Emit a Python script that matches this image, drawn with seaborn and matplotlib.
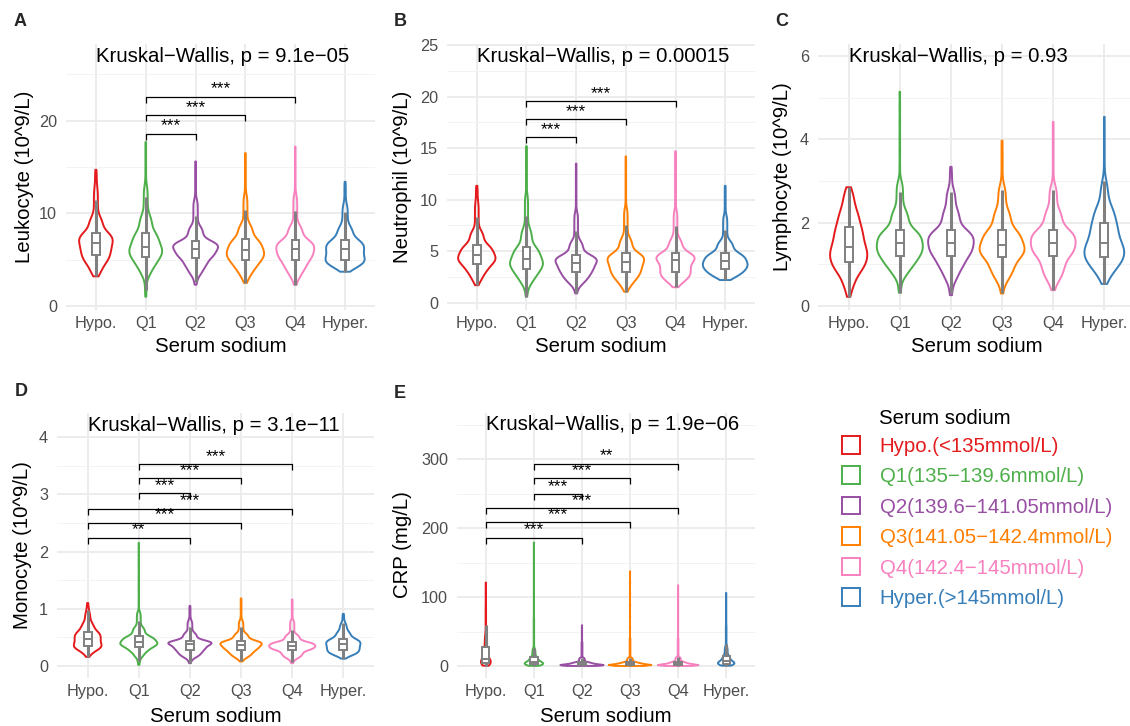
import numpy as np
import pandas as pd
import matplotlib
matplotlib.use("Agg")
import matplotlib.pyplot as plt
import seaborn as sns
from matplotlib.ticker import MultipleLocator
from matplotlib.patches import Patch

# ---------------- data ----------------
groups = ["Hypo.", "Q1", "Q2", "Q3", "Q4", "Hyper."]
legend_labels = ["Hypo.(<135mmol/L)", "Q1(135\u2212139.6mmol/L)",
                 "Q2(139.6\u2212141.05mmol/L)", "Q3(141.05\u2212142.4mmol/L)",
                 "Q4(142.4\u2212145mmol/L)", "Hyper.(>145mmol/L)"]
colors = ["#E41A1C", "#4DAF4A", "#984EA3", "#FF7F00", "#F781BF", "#377EB8"]

# quantiles of each group's distribution at these probabilities
quantile_probs = [0.0, 0.02, 0.10, 0.25, 0.50, 0.75, 0.90, 0.98, 1.0]

leukocyte_q = {
    "Hypo.":  [3.2, 3.6, 4.6, 5.5, 6.8, 7.9, 9.6, 12.8, 14.7],
    "Q1":     [1.0, 3.2, 4.3, 5.3, 6.4, 7.9, 9.8, 13.0, 17.7],
    "Q2":     [2.3, 3.3, 4.2, 5.2, 6.2, 7.0, 8.6, 11.5, 15.6],
    "Q3":     [2.5, 3.2, 4.1, 5.0, 6.0, 7.2, 8.8, 12.0, 16.5],
    "Q4":     [2.3, 3.1, 4.0, 5.0, 6.1, 7.1, 8.7, 12.0, 17.2],
    "Hyper.": [3.7, 4.0, 4.5, 5.0, 6.1, 7.1, 8.6, 11.0, 13.4],
}
neutrophil_q = {
    "Hypo.":  [1.7, 2.2, 3.0, 3.8, 4.6, 5.6, 7.0, 9.8, 11.35],
    "Q1":     [0.6, 1.7, 2.5, 3.3, 4.2, 5.4, 7.2, 10.5, 15.2],
    "Q2":     [0.9, 1.7, 2.3, 3.0, 3.9, 4.6, 6.0, 8.8, 13.5],
    "Q3":     [1.07, 1.6, 2.3, 3.0, 4.0, 4.8, 6.3, 9.2, 14.2],
    "Q4":     [1.5, 1.9, 2.4, 3.0, 4.1, 4.8, 6.2, 9.0, 14.7],
    "Hyper.": [2.2, 2.4, 2.8, 3.3, 4.0, 4.8, 6.0, 8.5, 11.35],
}
lymphocyte_q = {
    "Hypo.":  [0.22, 0.45, 0.8, 1.06, 1.42, 1.9, 2.3, 2.7, 2.85],
    "Q1":     [0.32, 0.7, 0.95, 1.2, 1.5, 1.82, 2.3, 3.0, 5.14],
    "Q2":     [0.26, 0.6, 0.9, 1.2, 1.52, 1.82, 2.3, 2.8, 3.34],
    "Q3":     [0.3, 0.6, 0.85, 1.17, 1.46, 1.82, 2.3, 2.9, 3.97],
    "Q4":     [0.38, 0.6, 0.85, 1.2, 1.52, 1.83, 2.3, 2.9, 4.42],
    "Hyper.": [0.53, 0.7, 0.95, 1.17, 1.5, 2.0, 2.4, 3.0, 4.54],
}
monocyte_q = {
    "Hypo.":  [0.16, 0.22, 0.30, 0.35, 0.48, 0.60, 0.75, 0.95, 1.10],
    "Q1":     [0.02, 0.15, 0.25, 0.34, 0.42, 0.52, 0.68, 0.95, 2.15],
    "Q2":     [0.05, 0.14, 0.20, 0.28, 0.38, 0.44, 0.58, 0.80, 1.05],
    "Q3":     [0.08, 0.14, 0.20, 0.28, 0.37, 0.44, 0.57, 0.80, 1.18],
    "Q4":     [0.05, 0.13, 0.19, 0.28, 0.35, 0.42, 0.55, 0.80, 1.16],
    "Hyper.": [0.13, 0.18, 0.22, 0.28, 0.38, 0.47, 0.60, 0.75, 0.91],
}
crp_q = {
    "Hypo.":  [0.5, 1.5, 3.0, 5.0, 10.0, 27.0, 45.0, 90.0, 121.0],
    "Q1":     [0.3, 0.8, 1.5, 3.0, 6.0, 13.0, 25.0, 70.0, 179.0],
    "Q2":     [0.1, 0.3, 0.6, 1.0, 2.5, 5.5, 12.0, 35.0, 59.0],
    "Q3":     [0.1, 0.3, 0.6, 1.0, 2.5, 5.5, 12.0, 40.0, 137.0],
    "Q4":     [0.1, 0.3, 0.6, 1.0, 2.5, 6.0, 13.0, 40.0, 117.0],
    "Hyper.": [0.5, 1.0, 2.0, 3.5, 7.0, 15.0, 28.0, 60.0, 106.0],
}

panel_letters = ["A", "B", "C", "D", "E"]
y_labels = ["Leukocyte (10^9/L)", "Neutrophil (10^9/L)", "Lymphocyte (10^9/L)",
            "Monocyte (10^9/L)", "CRP (mg/L)"]
kw_texts = ["Kruskal\u2212Wallis, p = 9.1e\u221205", "Kruskal\u2212Wallis, p = 0.00015",
            "Kruskal\u2212Wallis, p = 0.93", "Kruskal\u2212Wallis, p = 3.1e\u221211",
            "Kruskal\u2212Wallis, p = 1.9e\u221206"]
panel_quantiles = [leukocyte_q, neutrophil_q, lymphocyte_q, monocyte_q, crp_q]

# significance brackets: (group1, group2, y, label)
brackets_A = [("Q1", "Q2", 18.6, "***"), ("Q1", "Q3", 20.6, "***"), ("Q1", "Q4", 22.6, "***")]
brackets_B = [("Q1", "Q2", 16.05, "***"), ("Q1", "Q3", 17.8, "***"), ("Q1", "Q4", 19.55, "***")]
brackets_C = []
brackets_D = [("Hypo.", "Q2", 2.24, "**"), ("Hypo.", "Q3", 2.50, "***"), ("Hypo.", "Q4", 2.75, "***"),
              ("Q1", "Q2", 3.02, "***"), ("Q1", "Q3", 3.28, "***"), ("Q1", "Q4", 3.52, "***")]
brackets_E = [("Hypo.", "Q2", 186, "***"), ("Hypo.", "Q3", 208, "***"), ("Hypo.", "Q4", 228.5, "***"),
              ("Q1", "Q2", 249, "***"), ("Q1", "Q3", 272, "***"), ("Q1", "Q4", 293, "**")]
panel_brackets = [brackets_A, brackets_B, brackets_C, brackets_D, brackets_E]
major_steps = [10, 5, 2, 1, 100]

# ---------------- layout (pixels in a 1130x726 canvas) ----------------
W, H = 1130, 726
# (left, right, top, bottom, pixel of y=0, pixels per unit, title y, xlabel y, ylabel x, letter x, letter y)
layout = [
    (66, 375, 43.5, 309.5, 306.0, 9.265, 57, 347, 25, 20, 21),
    (447, 755, 43.5, 309.5, 302.7, 10.30, 57, 347, 403, 400, 21),
    (818, 1135, 43.5, 309.5, 306.0, 41.67, 57, 347, 783, 782, 21),
    (57, 374, 412.5, 677.5, 666.0, 57.25, 425, 717, 23, 21, 392),
    (457, 755, 412.5, 677.5, 666.0, 0.690, 425, 717, 403, 400, 393),
]


def nrd0_factor(kde):
    """Silverman's rule of thumb (R's bw.nrd0), as a factor of the data's std."""
    x = np.asarray(kde.dataset).ravel()
    sd = x.std(ddof=1)
    iqr = np.subtract(*np.percentile(x, [75, 25]))
    lo = min(sd, iqr / 1.34) if iqr > 0 else sd
    h = 0.9 * lo * len(x) ** (-0.2)
    return h / sd


sns.set_style("white")
plt.rcParams["font.family"] = ["Liberation Sans", "DejaVu Sans"]

N = 300
grid_p = np.linspace(0, 1, N)

fig = plt.figure(figsize=(W / 100, H / 100), dpi=100)
fig.patch.set_facecolor("white")

for i in range(5):
    l, r, t, b, y0, ppu, ty, xly, ylx, lx, ly = layout[i]
    ax = fig.add_axes([l / W, 1 - b / H, (r - l) / W, (b - t) / H])
    qd = panel_quantiles[i]
    rows = []
    for g in groups:
        vals = np.interp(grid_p, quantile_probs, qd[g])
        rows.append(pd.DataFrame({"group": g, "value": vals}))
    df = pd.concat(rows, ignore_index=True)

    sns.violinplot(data=df, x="group", y="value", hue="group", order=groups,
                   hue_order=groups, palette=colors, fill=False, inner=None,
                   cut=0, density_norm="area", common_norm=True, width=0.9,
                   linewidth=1.4, bw_method=nrd0_factor, legend=False, ax=ax)
    sns.boxplot(data=df, x="group", y="value", order=groups, width=0.15,
                showfliers=False, showcaps=False, color="white",
                linecolor="#808080", linewidth=1.4,
                whiskerprops={"linewidth": 2.2}, ax=ax)

    ylim = ((y0 - b) / ppu, (y0 - t) / ppu)
    ax.set_ylim(*ylim)
    ax.set_xlim(-0.6, 5.6)
    step = major_steps[i]
    ax.yaxis.set_major_locator(MultipleLocator(step))
    ax.yaxis.set_minor_locator(MultipleLocator(step / 2))
    ax.set_axisbelow(True)
    ax.grid(which="major", axis="both", color="#EBEBEB", linewidth=1.3)
    ax.grid(which="minor", axis="y", color="#F3F3F3", linewidth=0.7)
    for s in ax.spines.values():
        s.set_visible(False)
    ax.tick_params(axis="both", which="both", length=0, labelsize=11.7,
                   labelcolor="#4D4D4D")
    ax.tick_params(axis="y", pad=6.5)
    ax.tick_params(axis="x", pad=5)

    ax.set_xlabel("Serum sodium", fontsize=14.7, color="black")
    ax.set_ylabel(y_labels[i], fontsize=14.7, color="black")
    ax.xaxis.set_label_coords(0.5, (b - xly) / (b - t))
    ax.xaxis.label.set_va("center")
    ax.yaxis.set_label_coords((ylx - l) / (r - l), 0.5)
    ax.yaxis.label.set_va("center")

    # Kruskal-Wallis label
    ax.text(0, (y0 - ty) / ppu, kw_texts[i], ha="left", va="center",
            fontsize=14.7, color="black", clip_on=False)

    tip = 6 / ppu
    for g1, g2, yb, lab in panel_brackets[i]:
        x1, x2 = groups.index(g1), groups.index(g2)
        ax.plot([x1, x1, x2, x2], [yb - tip, yb, yb, yb - tip], color="black",
                linewidth=0.9, solid_capstyle="butt")
        ax.annotate(lab, xy=((x1 + x2) / 2, yb), xytext=(0, 2.5),
                    textcoords="offset points", ha="center", va="baseline",
                    fontsize=12.5, color="black")

    fig.text(lx / W, 1 - ly / H, panel_letters[i], fontsize=13, fontweight="bold",
             ha="center", va="center")

# ---------------- legend ----------------
handles = [Patch(facecolor="none", edgecolor=c, linewidth=1.4) for c in colors]
leg = fig.legend(handles, legend_labels, loc="upper left",
                 bbox_to_anchor=(842 / W, 1 - 436 / H), frameon=False,
                 fontsize=14.7, handlelength=0.9, handleheight=0.95,
                 handletextpad=0.95, labelspacing=0.52, borderaxespad=0,
                 borderpad=0)
for txt, c in zip(leg.get_texts(), colors):
    txt.set_color(c)
fig.text(879 / W, 1 - 419 / H, "Serum sodium", fontsize=14.7, ha="left",
         va="center", color="black")

fig.savefig("out.png", dpi=100)
